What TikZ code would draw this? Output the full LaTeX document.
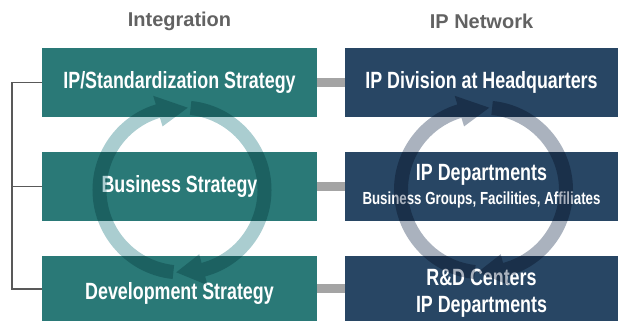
\documentclass[tikz,border=0pt]{standalone}
\usepackage{fontspec}
\newfontfamily\condfont[FakeStretch=0.76]{Liberation Sans}
\newfontfamily\headfont{Liberation Sans}
\usetikzlibrary{calc}
\usetikzlibrary{positioning}
\definecolor{tealbox}{HTML}{2A7977}
\definecolor{navybox}{HTML}{284664}
\definecolor{tealring}{HTML}{AACDD0}
\definecolor{navyring}{HTML}{AAB2BE}
\definecolor{linkgray}{HTML}{A4A4A4}
\definecolor{headgray}{HTML}{626262}
\tikzset{
	every path/.style={thick},
	align=center,
	heading/.style={
		text=headgray,
		font=\headfont\bfseries\fontsize{20}{24}\selectfont,
	},
	strat/.style={
		fill=tealbox,
		text=white,
		minimum width=275pt,
		minimum height=69pt,
		inner sep=0pt,
		font=\condfont\bfseries\fontsize{23.5}{27}\selectfont,
	},
	netw/.style={
		strat,
		fill=navybox,
		minimum width=273pt,
	},
	lastrow/.style={
		minimum height=74pt,
	},
	link/.style={
		draw=linkgray,
		line width=9pt,
	},
	bracket/.style={
		draw=black!65,
		line width=1.5pt,
	},
	cycle/.style={
		blend mode=multiply,
	},
}
% one part of the circular arrow: start angle, head base angle, tip angle
\newcommand{\ringarrow}[3]{%
	\fill (#1:89.5) arc[start angle=#1, end angle=#2, radius=89.5]
		-- (#2:98.5) -- (#3:82.5) -- (#2:66.5) -- (#2:75.5)
		arc[start angle=#2, end angle=#1, radius=75.5] -- cycle;
}

\begin{document}
\begin{tikzpicture}[x=1pt,y=1pt]
		\useasboundingbox (0,0) rectangle (618,-321);

		\node[heading] (integ) at (179.5,-21) {Integration};
		\node[heading] (ipnet) at (481.5,-21) {IP Network};

		\node[strat] (ipstd)  at (179.5,-82.5)  {IP/Standardization Strategy};
		\node[strat] (busstr) at (179.5,-186.5) {Business Strategy};
		\node[strat, lastrow] (devstr) at (179.5,-293) {Development Strategy};

		\node[netw] (iphq)   at (481.5,-82.5)  {IP Division at Headquarters};
		\node[netw] (ipdept) at (481.5,-186.5) {IP Departments\\[-3pt]{\fontsize{17.5}{20}\selectfont Business Groups, Facilities, Affiliates}};
		\node[netw, lastrow] (rdcent) at (481.5,-293) {R\&D Centers\\IP Departments};

		\draw[link] (ipstd) -- (iphq);
		\draw[link] (busstr) -- (ipdept);
		\draw[link] (devstr.east |- 0,-288.5) -- (rdcent.west |- 0,-288.5);

		\coordinate (brk) at (12,0);
		\draw[bracket] (ipstd.west) -- (ipstd.west -| brk) -- (brk |- 0,-289) -- (devstr.west |- 0,-289);
		\draw[bracket] (busstr.west) -- (busstr.west -| brk);

		%\draw (182,-190) circle (82.5);
		\begin{scope}[cycle, shift={(182,-190)}, fill=tealring]
			\ringarrow{264}{107}{86}
			\ringarrow{84}{-75}{-94}
		\end{scope}
		\begin{scope}[cycle, shift={(483.5,-190)}, fill=navyring]
			\ringarrow{264}{107}{86}
			\ringarrow{84}{-75}{-94}
		\end{scope}

	\end{tikzpicture}
\end{document}
